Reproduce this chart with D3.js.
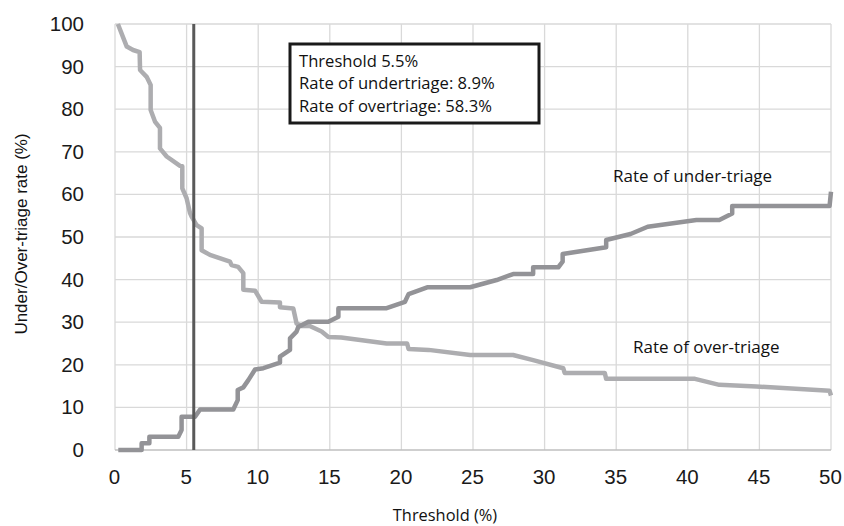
<!DOCTYPE html>
<html lang="en">
  <head>
    <meta charset="UTF-8" />
    <title>Under/Over-triage</title>
    <style>
      body { margin: 0; background: #fff; }
    </style>
  </head>
  <body>
    <svg id="svg" width="844" height="526"></svg>

    <script src="https://cdn.jsdelivr.net/npm/d3@7"></script>
    <script>
      const WIDTH = 844;
      const HEIGHT = 526;
      const MARGIN = { top: 24, right: 13, bottom: 76, left: 115 };

      // [threshold %, rate %]
      const overTriage = [
        [0.2, 100], [0.82, 94.7], [1.26, 93.9], [1.72, 93.4], [1.75, 89.2],
        [2.21, 87.6], [2.49, 85.7], [2.49, 79.8], [2.79, 77.1], [3.14, 75.6],
        [3.14, 70.8], [3.61, 68.9], [4.54, 66.7], [4.7, 66.6], [4.7, 61.4],
        [5.0, 59.1], [5.24, 55.6], [5.35, 54.8], [5.7, 52.8], [6.05, 52.0],
        [6.05, 46.9], [6.63, 45.8], [8.03, 44.2], [8.14, 43.4], [8.6, 43.0],
        [8.96, 41.5], [8.96, 37.6], [9.78, 37.4], [10.24, 34.8], [11.52, 34.6],
        [11.52, 33.5], [12.45, 33.2], [12.68, 29.7], [13.03, 29.1], [13.6, 29.1],
        [14.43, 27.8], [14.9, 26.5], [15.8, 26.4], [18.97, 25.0], [20.4, 25.0],
        [20.5, 23.7], [21.9, 23.5], [24.8, 22.3], [27.8, 22.3], [29.2, 21.1],
        [31.3, 19.2], [31.4, 18.1], [34.2, 18.1], [34.3, 16.7], [40.5, 16.7],
        [42.2, 15.3], [44.8, 14.9], [49.9, 13.9], [50, 12.8]
      ];

      const underTriage = [
        [0.23, 0], [1.86, 0], [1.86, 1.6], [2.4, 1.6], [2.4, 3.1],
        [4.42, 3.1], [4.65, 4.7], [4.65, 7.8], [5.59, 7.8], [5.94, 9.5],
        [8.26, 9.5], [8.57, 11.7], [8.57, 14.1], [8.96, 14.7], [9.31, 16.4],
        [9.78, 18.9], [10.36, 19.2], [11.52, 20.5], [11.52, 21.9], [12.22, 23.5],
        [12.22, 26.2], [12.68, 27.8], [12.8, 28.9], [13.5, 30.1], [14.9, 30.1],
        [15.6, 31.3], [15.6, 33.3], [18.97, 33.3], [20.25, 34.8], [20.5, 36.6],
        [21.8, 38.2], [24.8, 38.2], [26.65, 39.9], [27.8, 41.3], [29.2, 41.3],
        [29.2, 42.9], [30.96, 42.9], [31.26, 44.2], [31.26, 46.0], [34.3, 47.6],
        [34.3, 49.3], [36.0, 50.7], [37.2, 52.4], [40.6, 54.0], [42.2, 54.0],
        [43.1, 55.5], [43.1, 57.3], [49.9, 57.3], [50, 60.6]
      ];

      const xTicks = [0, 5, 10, 15, 20, 25, 30, 35, 40, 45, 50];
      const yTicks = [0, 10, 20, 30, 40, 50, 60, 70, 80, 90, 100];
      const threshold = 5.5;
      const boxLines = [
        "Threshold 5.5%",
        "Rate of undertriage: 8.9%",
        "Rate of overtriage: 58.3%"
      ];
      const curveLabels = [
        { text: "Rate of under-triage", x: 34.78, y: 62.9 },
        { text: "Rate of over-triage", x: 36.17, y: 22.8 }
      ];

      const TICK_FONT = "'Liberation Sans', Arial, sans-serif";
      const TEXT_FONT = "'Open Sans', 'Noto Sans', sans-serif";

      const svg = d3.select("#svg");

      const x = d3.scaleLinear().domain([0, 50])
        .range([MARGIN.left, WIDTH - MARGIN.right]);
      const y = d3.scaleLinear().domain([0, 100])
        .range([HEIGHT - MARGIN.bottom, MARGIN.top]);

      // gridlines
      const grid = svg.append("g");
      grid.selectAll("line.v")
        .data(xTicks)
        .enter()
        .append("line")
        .attr("x1", (d) => x(d)).attr("x2", (d) => x(d))
        .attr("y1", y(0)).attr("y2", y(100))
        .attr("stroke", "#d9d9d9").attr("stroke-width", 1.3);
      grid.selectAll("line.h")
        .data(yTicks.slice(1))
        .enter()
        .append("line")
        .attr("x1", x(0)).attr("x2", x(50))
        .attr("y1", (d) => y(d)).attr("y2", (d) => y(d))
        .attr("stroke", "#d9d9d9").attr("stroke-width", 1.3);

      // bottom axis line
      svg.append("line")
        .attr("x1", x(0)).attr("x2", x(50))
        .attr("y1", y(0)).attr("y2", y(0))
        .attr("stroke", "#bfbfbf").attr("stroke-width", 1.5);

      // axes (labels only)
      const bottomAxis = d3.axisBottom(x).tickValues(xTicks).tickSize(0).tickPadding(19);
      const leftAxis = d3.axisLeft(y).tickValues(yTicks).tickSize(0).tickPadding(31);

      const gx = svg.append("g")
        .attr("transform", `translate(-1, ${y(0)})`)
        .call(bottomAxis);
      const gy = svg.append("g")
        .attr("transform", `translate(${x(0)}, 0)`)
        .call(leftAxis);
      [gx, gy].forEach((g) => {
        g.select(".domain").remove();
        g.selectAll("text")
          .attr("font-family", TICK_FONT)
          .attr("font-size", 20.5)
          .attr("fill", "#1a1a1a");
      });

      const lineGen = d3.line()
        .x((d) => x(d[0]))
        .y((d) => y(d[1]))
        .curve(d3.curveLinear);

      svg.append("path")
        .attr("d", lineGen(overTriage))
        .attr("fill", "none")
        .attr("stroke", "#adadb0")
        .attr("stroke-width", 4.5)
        .attr("stroke-linejoin", "round");

      svg.append("path")
        .attr("d", lineGen(underTriage))
        .attr("fill", "none")
        .attr("stroke", "#939397")
        .attr("stroke-width", 4.5)
        .attr("stroke-linejoin", "round");

      // threshold line
      svg.append("line")
        .attr("x1", x(threshold)).attr("x2", x(threshold))
        .attr("y1", y(0)).attr("y2", y(100))
        .attr("stroke", "#595959").attr("stroke-width", 3);

      // annotation box
      const box = svg.append("g").attr("transform", "translate(290, 44)");
      box.append("rect")
        .attr("width", 249).attr("height", 79)
        .attr("fill", "#fff")
        .attr("stroke", "#1a1a1a").attr("stroke-width", 3);
      box.selectAll("text")
        .data(boxLines)
        .enter()
        .append("text")
        .attr("x", 9)
        .attr("y", (d, i) => 22.5 + i * 22.6)
        .attr("font-family", TEXT_FONT)
        .attr("font-size", 16.6)
        .attr("fill", "#111")
        .text((d) => d);

      // curve labels
      svg.selectAll("text.curve-label")
        .data(curveLabels)
        .enter()
        .append("text")
        .attr("class", "curve-label")
        .attr("x", (d) => x(d.x))
        .attr("y", (d) => y(d.y))
        .attr("font-family", TEXT_FONT)
        .attr("font-size", 17)
        .attr("fill", "#111")
        .text((d) => d.text);

      // axis titles
      svg.append("text")
        .attr("x", 445)
        .attr("y", 521)
        .attr("text-anchor", "middle")
        .attr("font-family", TEXT_FONT)
        .attr("font-size", 16.4)
        .attr("fill", "#111")
        .text("Threshold (%)");

      svg.append("text")
        .attr("transform", `translate(27, 234) rotate(-90)`)
        .attr("text-anchor", "middle")
        .attr("font-family", TICK_FONT)
        .attr("font-size", 17)
        .attr("fill", "#111")
        .text("Under/Over-triage rate (%)");
    </script>
  </body>
</html>
